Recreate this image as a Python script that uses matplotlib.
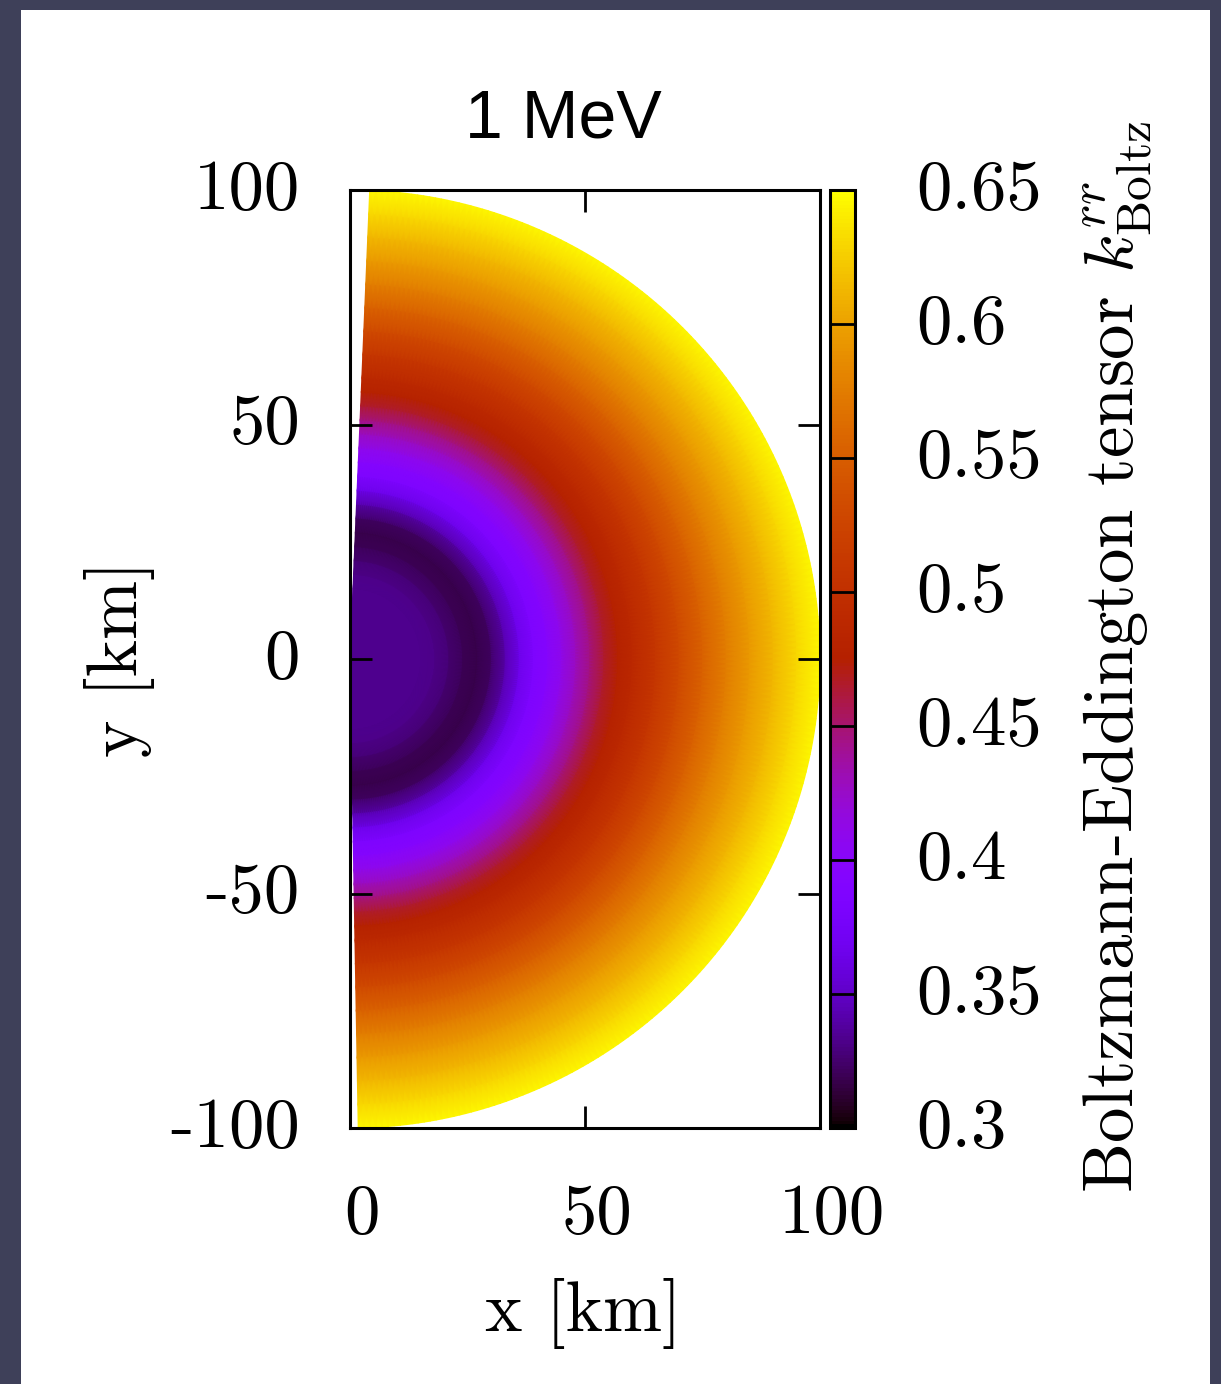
import numpy as np
import matplotlib
matplotlib.use('Agg')
import matplotlib.pyplot as plt
import matplotlib.transforms as mtransforms
from matplotlib.patches import Rectangle

plt.rcParams['font.family'] = 'serif'
plt.rcParams['font.serif'] = ['cmr10']
plt.rcParams['mathtext.fontset'] = 'cm'
plt.rcParams['axes.unicode_minus'] = False

# radial profile of k^rr (Boltzmann) at 1 MeV, r in km
radius = [0, 5, 10, 15, 18, 21, 24, 27, 30, 33, 36, 39, 42, 45, 48,
          51, 54, 57, 60, 65, 70, 75, 80, 85, 90, 95, 100]
k_rr = [0.333, 0.333, 0.333, 0.333, 0.332, 0.327, 0.320, 0.317, 0.323,
        0.342, 0.365, 0.385, 0.395, 0.410, 0.428, 0.445, 0.465, 0.478,
        0.488, 0.508, 0.530, 0.553, 0.575, 0.595, 0.613, 0.630, 0.645]

x_ticks = [0, 50, 100]
y_ticks = [-100, -50, 0, 50, 100]
cb_ticks = [0.3, 0.35, 0.4, 0.45, 0.5, 0.55, 0.6, 0.65]
cb_labels = ['0.3', '0.35', '0.4', '0.45', '0.5', '0.55', '0.6', '0.65']

FS = 51
W, H = 1221, 1384
fig = plt.figure(figsize=(W / 100, H / 100), dpi=100)
fig.patch.set_facecolor('#3e4059')
fig.add_artist(Rectangle((21 / W, 0), 1189 / W, 1 - 10 / H,
                         transform=fig.transFigure, facecolor='white',
                         edgecolor='none', zorder=0))

ax = fig.add_axes([350 / W, 1 - 1128 / H, 470 / W, 938 / H])
cax = fig.add_axes([830 / W, 1 - 1128 / H, 25 / W, 938 / H])

# polar grid (theta measured from +y axis)
theta = np.radians(np.linspace(2.4, 179.0, 241))
R, T = np.meshgrid(np.asarray(radius, float), theta, indexing='ij')
X = R * np.sin(T)
Y = R * np.cos(T)
C = np.repeat(np.asarray(k_rr)[:, None], len(theta), axis=1)

pc = ax.pcolormesh(X, Y, C, shading='gouraud', cmap='gnuplot',
                   vmin=0.3, vmax=0.65, rasterized=True)

ax.set_xlim(0, 100)
ax.set_ylim(-100, 100)
ax.set_xticks(x_ticks)
ax.set_xticklabels([str(t) for t in x_ticks])
ax.set_yticks(y_ticks)
ax.set_yticklabels([str(t) for t in y_ticks])
ax.tick_params(direction='in', length=16, width=2, labelsize=FS,
               top=True, right=True, color='black')
ax.tick_params(axis='x', pad=40)
ax.tick_params(axis='y', pad=36)
for sp in ax.spines.values():
    sp.set_linewidth(2.2)

# nudge tick labels: x labels a bit right, y labels a bit up
shift_x = mtransforms.ScaledTranslation(12 / 100, 0, fig.dpi_scale_trans)
shift_y = mtransforms.ScaledTranslation(0, 6 / 100, fig.dpi_scale_trans)
for lab in ax.get_xticklabels():
    lab.set_transform(lab.get_transform() + shift_x)

ax.set_xlabel('x [km]', fontsize=FS)
ax.xaxis.set_label_coords(0.496, -0.16)
ax.set_ylabel('y [km]', fontsize=FS)
ax.yaxis.set_label_coords(-0.415, 0.5)

cb = fig.colorbar(pc, cax=cax)
cb.set_ticks(cb_ticks)
cb.set_ticklabels(cb_labels)
cb.outline.set_linewidth(2.2)
cax.tick_params(direction='in', length=18, width=2, labelsize=FS, pad=44)

for lab in ax.get_yticklabels() + cax.get_yticklabels():
    lab.set_transform(lab.get_transform() + shift_y)

fig.text(1118 / W, 1 - 657 / H,
         r'Boltzmann-Eddington tensor $k^{rr}_{\rm Boltz}$',
         rotation=90, ha='center', va='center', fontsize=FS)

fig.text(563 / W, 1 - 120 / H, '1 MeV', family='Liberation Sans',
         ha='center', va='center', fontsize=49)

fig.savefig('out.png', dpi=100, facecolor=fig.get_facecolor())
